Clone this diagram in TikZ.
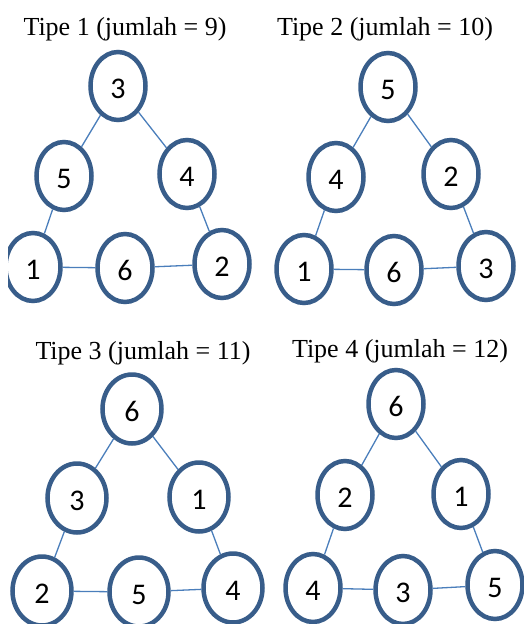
\documentclass[tikz,border=0pt]{standalone}
\usepackage{fontspec}
\setmainfont{Liberation Serif}
\newfontfamily\carlito{Carlito}
\usetikzlibrary{shapes.geometric}
\definecolor{ellcol}{HTML}{385D8A}
\definecolor{linecol}{HTML}{4A7EBB}
\tikzset{
  numnode/.style={ellipse, draw=ellcol, line width=4.5pt, fill=white,
    minimum width=55pt, minimum height=68pt, inner sep=0pt,
    text height=25pt, text depth=0pt,
    font=\carlito\fontsize{30}{30}\selectfont},
  widenode/.style={numnode, minimum width=59pt, minimum height=69pt},
  conn/.style={draw=linecol, line width=1.3pt},
  title/.style={anchor=base, inner sep=0pt, font=\fontsize{26}{26}\selectfont}
}
\begin{document}
\begin{tikzpicture}[x=1pt,y=-1pt]
\useasboundingbox (0,0) rectangle (524,624);
\begin{scope}
\clip (8,0) rectangle (524,624);
% Panel 1
\node[title] (t1) at (125,35) {Tipe 1 (jumlah = 9)};
\node[numnode] (a3) at (118,86) {3};
\node[numnode] (a5) at (64,176) {5};
\node[numnode] (a4) at (187,174) {4};
\node[numnode] (a1) at (33,267) {1};
\node[numnode] (a6) at (125,268) {6};
\node[numnode] (a2) at (222,264) {2};
\draw[conn] (a3) -- (a5);
\draw[conn] (a3) -- (a4);
\draw[conn] (a5) -- (a1);
\draw[conn] (a4) -- (a2);
\draw[conn] (a1) -- (a6);
\draw[conn] (a6) -- (a2);
% Panel 2
\node[title] (t2) at (385,35) {Tipe 2 (jumlah = 10)};
\node[numnode] (b5) at (388,87) {5};
\node[numnode] (b4) at (336,177) {4};
\node[numnode] (b2) at (451,174) {2};
\node[numnode] (b1) at (304,269) {1};
\node[numnode] (b6) at (394,270) {6};
\node[numnode] (b3) at (486,266) {3};
\draw[conn] (b5) -- (b4);
\draw[conn] (b5) -- (b2);
\draw[conn] (b4) -- (b1);
\draw[conn] (b2) -- (b3);
\draw[conn] (b1) -- (b6);
\draw[conn] (b6) -- (b3);
% Panel 3
\node[title] (t3) at (143,359) {Tipe 3 (jumlah = 11)};
\node[widenode] (c6) at (132,409) {6};
\node[widenode] (c3) at (77,498) {3};
\node[widenode] (c1) at (199,497) {1};
\node[widenode] (c2) at (42,591) {2};
\node[widenode] (c5) at (139,592) {5};
\node[widenode] (c4) at (233,588) {4};
\draw[conn] (c6) -- (c3);
\draw[conn] (c6) -- (c1);
\draw[conn] (c3) -- (c2);
\draw[conn] (c1) -- (c4);
\draw[conn] (c2) -- (c5);
\draw[conn] (c5) -- (c4);
% Panel 4
\node[title] (t4) at (400,357) {Tipe 4 (jumlah = 12)};
\node[numnode] (d6) at (396,404) {6};
\node[numnode] (d2) at (345,495) {2};
\node[numnode] (d1) at (461,494) {1};
\node[numnode] (d4) at (313,588) {4};
\node[numnode] (d3) at (403,590) {3};
\node[numnode] (d5) at (495,585) {5};
\draw[conn] (d6) -- (d2);
\draw[conn] (d6) -- (d1);
\draw[conn] (d2) -- (d4);
\draw[conn] (d1) -- (d5);
\draw[conn] (d4) -- (d3);
\draw[conn] (d3) -- (d5);
\end{scope}
\end{tikzpicture}
\end{document}
